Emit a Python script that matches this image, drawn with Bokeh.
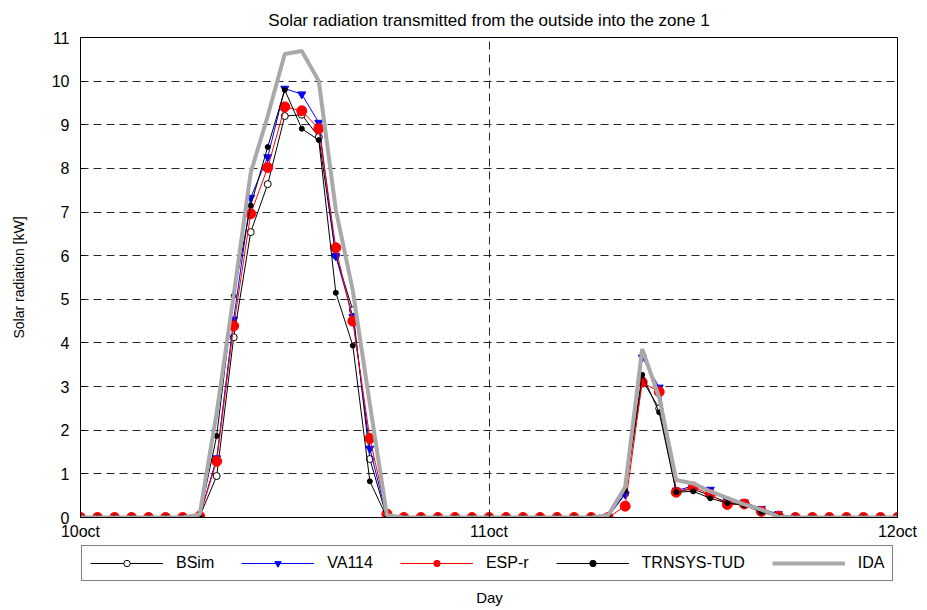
from bokeh.plotting import figure
from bokeh.layouts import column
from bokeh.models import Range1d, FixedTicker, Legend, LegendItem, Label
from bokeh.embed import file_html
from bokeh.resources import INLINE

# hourly time axis: 0 = 10 oct 00:00, 24 = 11 oct, 48 = 12 oct
hours = list(range(49))
tick_pos = [0, 24, 48]
tick_labels = ["10oct", "11oct", "12oct"]
series_names = ["BSim", "VA114", "ESP-r", "TRNSYS-TUD", "IDA"]

bsim = [0, 0, 0, 0, 0, 0, 0,
        0.02, 0.95, 4.13, 6.54, 7.64, 9.20, 9.23, 8.72, 6.00, 4.75, 1.34, 0.00,
        0, 0, 0, 0, 0,
        0, 0, 0, 0, 0, 0, 0,
        0.02, 0.55, 3.15, 2.50, 0.60, 0.65, 0.50, 0.35, 0.30, 0.15, 0.05, 0.00,
        0, 0, 0, 0, 0, 0]
va114 = [0, 0, 0, 0, 0, 0, 0,
         0.03, 1.36, 4.54, 7.33, 8.26, 9.83, 9.70, 9.05, 5.99, 4.60, 1.58, 0.02,
         0, 0, 0, 0, 0,
         0, 0, 0, 0, 0, 0, 0,
         0.03, 0.53, 3.67, 2.98, 0.62, 0.72, 0.64, 0.38, 0.35, 0.20, 0.08, 0.00,
         0, 0, 0, 0, 0, 0]
espr = [0, 0, 0, 0, 0, 0, 0,
        0.03, 1.29, 4.39, 6.96, 8.02, 9.41, 9.32, 8.91, 6.18, 4.50, 1.81, 0.08,
        0, 0, 0, 0, 0,
        0, 0, 0, 0, 0, 0, 0,
        0.00, 0.26, 3.10, 2.88, 0.58, 0.70, 0.53, 0.30, 0.31, 0.14, 0.03, 0.00,
        0, 0, 0, 0, 0, 0]
trnsys = [0, 0, 0, 0, 0, 0, 0,
          0.02, 1.87, 5.08, 7.15, 8.49, 9.80, 8.91, 8.65, 5.15, 3.94, 0.83, 0.00,
          0, 0, 0, 0, 0,
          0, 0, 0, 0, 0, 0, 0,
          0.02, 0.62, 3.27, 2.41, 0.58, 0.60, 0.44, 0.33, 0.28, 0.12, 0.02, 0.00,
          0, 0, 0, 0, 0, 0]
ida = [0, 0, 0, 0, 0, 0, 0,
       0.07, 2.40, 5.10, 7.90, 9.20, 10.62, 10.69, 10.00, 7.05, 5.20, 2.60, 0.05,
       0, 0, 0, 0, 0,
       0, 0, 0, 0, 0, 0, 0,
       0.05, 0.70, 3.86, 2.75, 0.86, 0.78, 0.60, 0.45, 0.30, 0.18, 0.02, 0.00,
       0, 0, 0, 0, 0, 0]

FONT = "Liberation Sans"
IDA_GRAY = "#A9A9A9"

# ---------------- main chart ----------------
p = figure(frame_width=817, frame_height=480,
           min_border_left=80, min_border_right=30, min_border_top=37, min_border_bottom=28,
           x_range=Range1d(0, 48), y_range=Range1d(0, 11),
           output_backend="svg", toolbar_location=None,
           title="Solar radiation transmitted from the outside into the zone 1")

p.title.align = "center"
p.title.text_font = FONT
p.title.text_font_size = "17px"
p.title.text_font_style = "normal"
p.title.text_color = "black"
p.title.standoff = 16

p.outline_line_color = "black"
p.outline_line_width = 1

p.xaxis.ticker = FixedTicker(ticks=tick_pos)
p.xaxis.major_label_overrides = {t: l for t, l in zip(tick_pos, tick_labels)}
p.yaxis.ticker = FixedTicker(ticks=list(range(0, 12)))
for ax in (p.xaxis, p.yaxis):
    ax.major_tick_in = 5
    ax.major_tick_out = 0
    ax.minor_tick_line_color = None
    ax.axis_line_color = "black"
    ax.major_tick_line_color = "black"
    ax.major_label_text_font = FONT
    ax.major_label_text_font_size = "16px"
    ax.major_label_text_color = "black"
p.xaxis.major_label_standoff = 5
p.yaxis.major_label_standoff = 11
p.yaxis.axis_label = "Solar radiation [kW]"
p.yaxis.axis_label_text_font = FONT
p.yaxis.axis_label_text_font_size = "14px"
p.yaxis.axis_label_text_font_style = "normal"
p.yaxis.axis_label_text_color = "black"
p.yaxis.axis_label_standoff = 22

p.xgrid.ticker = FixedTicker(ticks=[24])
p.ygrid.ticker = FixedTicker(ticks=list(range(1, 11)))
for g in (p.xgrid, p.ygrid):
    g.grid_line_color = "black"
    g.grid_line_dash = "8 5"
    g.grid_line_alpha = 0.85
    g.grid_line_width = 1

p.line(hours, bsim, line_color="black", line_width=1)
p.scatter(hours, bsim, marker="circle", size=7, fill_color="white", line_color="black", line_width=1)
p.line(hours, va114, line_color="blue", line_width=1)
p.scatter(hours, va114, marker="inverted_triangle", size=8, fill_color="blue", line_color="blue")
p.line(hours, espr, line_color="red", line_width=1)
p.scatter(hours, espr, marker="circle", size=10, fill_color="red", line_color="red")
p.line(hours, trnsys, line_color="black", line_width=1)
p.scatter(hours, trnsys, marker="circle", size=5, fill_color="black", line_color="black")
p.line(hours, ida, line_color=IDA_GRAY, line_width=4)

# ---------------- legend strip + x-axis title ----------------
q = figure(width=927, height=65, x_axis_type=None, y_axis_type=None,
           x_range=Range1d(0, 1), y_range=Range1d(0, 1),
           min_border=0, output_backend="svg", toolbar_location=None)
q.outline_line_color = None
q.grid.visible = False

nan = [float("nan")]
e1 = [q.line(nan, nan, line_color="black", line_width=1),
      q.scatter(nan, nan, marker="circle", size=7, fill_color="white", line_color="black")]
e2 = [q.line(nan, nan, line_color="blue", line_width=1),
      q.scatter(nan, nan, marker="inverted_triangle", size=8, fill_color="blue", line_color="blue")]
e3 = [q.line(nan, nan, line_color="red", line_width=1),
      q.scatter(nan, nan, marker="circle", size=10, fill_color="red", line_color="red")]
e4 = [q.line(nan, nan, line_color="black", line_width=1),
      q.scatter(nan, nan, marker="circle", size=5, fill_color="black", line_color="black")]
e5 = [q.line(nan, nan, line_color=IDA_GRAY, line_width=4)]

legend = Legend(items=[LegendItem(label=n, renderers=r)
                       for n, r in zip(series_names, [e1, e2, e3, e4, e5])],
                orientation="horizontal", location=(1, 29),
                glyph_width=73, glyph_height=16, label_standoff=13, spacing=27,
                padding=8, margin=0,
                label_text_font=FONT, label_text_font_size="16px", label_text_color="black",
                border_line_color="black", border_line_width=1, background_fill_alpha=1)
q.add_layout(legend, "center")

q.add_layout(Label(x=409, y=13, x_units="screen", y_units="screen", text="Day",
                   text_align="center", text_baseline="middle",
                   text_font=FONT, text_font_size="15px", text_color="black"))

open("out.html", "w").write(file_html(column(p, q), INLINE))
